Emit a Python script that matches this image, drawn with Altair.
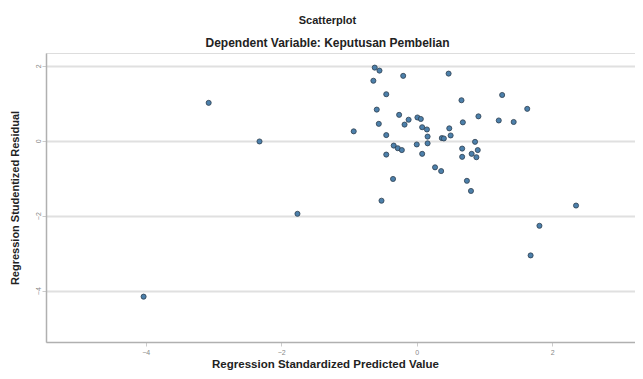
import altair as alt
import pandas as pd

# Regression Standardized Predicted Value (x) and Studentized Residual (y)
pred = [-3.07, -2.32, -1.76, -4.03, -0.93, -0.62, -0.55, -0.64, -0.20, 0.47,
        -0.45, -0.59, -0.26, -0.56, -0.12, -0.18, 0.01, 0.06, 0.08, 0.15,
        0.16, 0.16, 0.48, 0.50, 0.37, 0.40, -0.45, 0.00, -0.34, -0.28,
        -0.22, -0.45, 0.08, 0.27, 0.36, -0.35, -0.52, 0.66, 1.26, 1.63,
        0.91, 0.68, 1.21, 1.43, 0.86, 0.67, 0.90, 0.81, 0.67, 0.88,
        0.74, 0.80, 2.35, 1.81, 1.68]
resid = [1.01, -0.02, -1.95, -4.16, 0.25, 1.95, 1.87, 1.60, 1.73, 1.79,
         1.24, 0.83, 0.69, 0.45, 0.56, 0.43, 0.62, 0.58, 0.36, 0.30,
         0.11, -0.07, 0.33, 0.14, 0.07, 0.06, 0.15, -0.10, -0.13, -0.20,
         -0.25, -0.37, -0.35, -0.71, -0.81, -1.02, -1.60, 1.08, 1.22, 0.85,
         0.65, 0.49, 0.54, 0.50, -0.03, -0.21, -0.25, -0.35, -0.43, -0.44,
         -1.07, -1.34, -1.73, -2.27, -3.06]

x_ticks = [-4, -2, 0, 2]
y_ticks = [2, 0, -2, -4]

df = pd.DataFrame({"pred": pred, "resid": resid})

FONT = "Liberation Sans"

chart = (
    alt.Chart(df)
    .mark_circle(size=26, color="#4c80ab", stroke="#2e3f4f", strokeWidth=0.8, opacity=1)
    .encode(
        x=alt.X(
            "pred:Q",
            scale=alt.Scale(domain=[-5.47, 3.22], nice=False, zero=False),
            axis=alt.Axis(
                values=x_ticks,
                grid=False,
                title="Regression Standardized Predicted Value",
                titleFont=FONT,
                titleFontSize=11.5,
                titleFontWeight="bold",
                titleColor="#222222",
                titleX=279,
                titleY=22,
                titleBaseline="middle",
                labelFont=FONT,
                labelFontSize=7,
                labelColor="#888888",
                labelPadding=2,
                tickSize=4,
                tickColor="#cccccc",
                domainColor="#b0b0b0",
                domainWidth=1.5,
            ),
        ),
        y=alt.Y(
            "resid:Q",
            scale=alt.Scale(domain=[-5.37, 2.34], nice=False, zero=False),
            axis=alt.Axis(
                values=y_ticks,
                grid=True,
                gridColor="#e0e0e0",
                gridWidth=2,
                title="Regression Studentized Residual",
                titleFont=FONT,
                titleFontSize=11,
                titleFontWeight="bold",
                titleColor="#222222",
                titleAngle=270,
                titleX=-31,
                titleY=144.5,
                titleBaseline="middle",
                labelFont=FONT,
                labelFontSize=7,
                labelColor="#888888",
                labelAngle=270,
                labelAlign="center",
                labelBaseline="bottom",
                labelPadding=1,
                tickSize=4,
                tickColor="#cccccc",
                domainColor="#b0b0b0",
                domainWidth=1.5,
            ),
        ),
    )
    .properties(
        width=589,
        height=289,
        autosize=alt.AutoSizeParams(type="none"),
        padding={"left": 38, "top": 45, "right": 0, "bottom": 29},
        title=alt.TitleParams(
            text="Scatterplot",
            subtitle="Dependent Variable: Keputusan Pembelian",
            font=FONT,
            subtitleFont=FONT,
            fontSize=11,
            subtitleFontSize=12,
            fontWeight="bold",
            subtitleFontWeight="bold",
            color="#222222",
            subtitleColor="#222222",
            anchor="middle",
            frame="group",
            dx=-13,
            offset=4,
            subtitlePadding=12,
        ),
    )
    .configure_view(stroke="transparent")
    .configure(background="white")
)

chart.save("out.html", embed_options={"renderer": "svg", "actions": False})
